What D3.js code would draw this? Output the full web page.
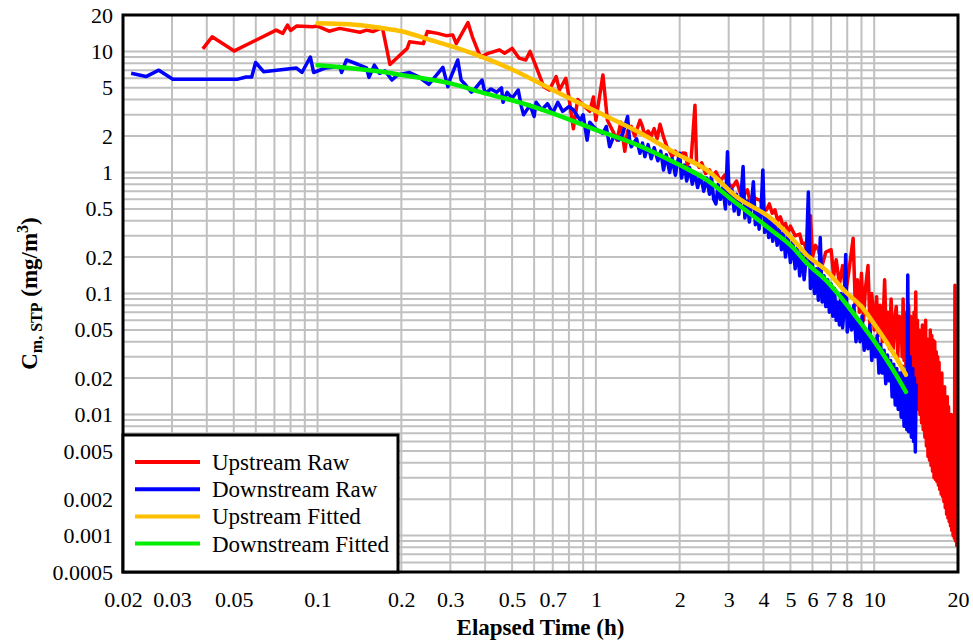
<!DOCTYPE html>
<html>
<head>
<meta charset="utf-8">
<script src="https://cdn.jsdelivr.net/npm/d3@7"></script>
<style>
  body { margin: 0; background: #fff; }
  text { font-family: "Liberation Serif", "Times New Roman", serif; fill: #000; }
</style>
</head>
<body>
<svg id="chart" width="973" height="641"></svg>
<script>
const xTicks = [0.02, 0.03, 0.05, 0.1, 0.2, 0.3, 0.5, 0.7, 1, 2, 3, 4, 5, 6, 7, 8, 10, 20];
const yTicks = [0.0005, 0.001, 0.002, 0.005, 0.01, 0.02, 0.05, 0.1, 0.2, 0.5, 1, 2, 5, 10, 20];
const seriesNames = ['Upstream Raw', 'Downstream Raw', 'Upstream Fitted', 'Downstream Fitted'];

// upstream raw (h, mg/m3)
const upTime = [0.0387, 0.0418, 0.0502, 0.071, 0.075, 0.078, 0.080, 0.084, 0.096, 0.10, 0.11, 0.12, 0.142, 0.15, 0.158, 0.171,
  0.182, 0.21, 0.214, 0.24, 0.248, 0.27, 0.29, 0.306, 0.315, 0.347, 0.36, 0.38, 0.385, 0.41, 0.45, 0.47, 0.50, 0.53, 0.56,
  0.58, 0.61, 0.65, 0.68, 0.72, 0.74, 0.78, 0.80, 0.83, 0.86, 0.90, 0.95, 0.98, 1.0, 1.06, 1.1, 1.15, 1.19, 1.23, 1.27, 1.30,
  1.34, 1.38, 1.44, 1.47, 1.50, 1.54, 1.58, 1.62, 1.66, 1.7, 1.75, 1.8, 1.84, 1.88, 1.93, 2.0, 2.05, 2.1, 2.13, 2.2, 2.27,
  2.3, 2.35, 2.4, 2.48, 2.56, 2.62, 2.7, 2.8, 2.9, 3.0, 3.1, 3.2, 3.3, 3.4, 3.5, 3.6, 3.7, 3.8, 3.9, 4.0, 4.1, 4.2, 4.3, 4.4,
  4.5, 4.6, 4.7, 4.8, 4.9, 5.0, 5.2, 5.4, 5.5, 5.6, 5.75, 5.9, 6.0, 6.15, 6.3, 6.5, 6.7, 7.0, 7.15, 7.3, 7.5, 7.7, 7.9, 8.1,
  8.4, 8.55, 8.7, 8.85, 9.0, 9.15, 9.3, 9.5, 9.65, 9.8, 10.0, 10.2, 10.35, 10.5, 10.7, 10.9, 11.05, 11.2, 11.35, 11.5, 11.7,
  11.85, 12.0, 12.15, 12.3,
  12.5, 12.6, 12.7, 12.8, 12.9, 13.0, 13.1, 13.2, 13.3, 13.4, 13.5, 13.6, 13.7, 13.8, 13.9, 14.0, 14.1, 14.2, 14.3, 14.4,
  14.5, 14.6, 14.7, 14.8, 14.9, 15.0, 15.1, 15.2, 15.3, 15.4, 15.5, 15.6, 15.7, 15.8, 15.9, 16.0, 16.1, 16.2, 16.3, 16.4,
  16.5, 16.6, 16.7, 16.8, 16.9, 17.0, 17.1, 17.2, 17.3, 17.4, 17.5, 17.6, 17.7, 17.8, 17.9, 18.0, 18.1, 18.2, 18.3, 18.4,
  18.5, 18.6, 18.7, 18.8, 18.9, 19.0, 19.1, 19.2, 19.3, 19.4, 19.5, 19.6, 19.7, 19.8];
const upConc = [10.5, 13.2, 10.1, 15.0, 14.1, 16.5, 14.9, 16.2, 16.0, 16.2, 14.7, 15.5, 14.4, 15.0, 14.6, 15.7,
  7.8, 10.6, 12.0, 11.6, 14.6, 14.1, 13.5, 13.7, 11.6, 17.3, 13.2, 9.65, 9.0, 9.65, 10.3, 9.65, 10.6, 8.8, 8.5,
  10.0, 7.5, 5.1, 4.8, 6.2, 4.8, 6.0, 4.2, 2.3, 4.0, 3.6, 3.2, 4.2, 2.7, 6.4, 2.7, 2.2, 1.85, 2.6, 1.5, 2.2,
  2.4, 2.0, 2.7, 2.4, 2.0, 2.2, 2.0, 2.3, 1.9, 2.5, 1.96, 1.63, 1.5, 1.35, 1.5, 1.31, 1.45, 1.44, 1.15, 1.3, 3.6,
  1.2, 1.1, 1.2, 0.98, 1.05, 0.92, 1.01, 0.85, 0.95, 0.8, 0.76, 0.85, 0.68, 0.65, 0.72, 0.556, 0.62, 0.6, 0.59, 0.5, 0.49, 0.55, 0.46, 0.49,
  0.4, 0.43, 0.36, 0.38, 0.32, 0.36, 0.3, 0.31, 0.26, 0.26, 0.22, 0.44, 0.2, 0.25, 0.23, 0.17, 0.22, 0.23, 0.14, 0.19, 0.12, 0.17, 0.1, 0.15,
  0.286, 0.08, 0.13, 0.07, 0.147, 0.06, 0.11, 0.17, 0.055, 0.1, 0.05, 0.094, 0.045, 0.08, 0.04, 0.13, 0.04, 0.07, 0.035, 0.09, 0.035,
  0.06, 0.078, 0.03, 0.065,
  0.06, 0.03, 0.09, 0.028, 0.07, 0.025, 0.06, 0.022, 0.08, 0.02, 0.065, 0.018, 0.055, 0.016, 0.07, 0.014, 0.103, 0.012, 0.06, 0.011,
  0.05, 0.01, 0.041, 0.0085, 0.055, 0.0075, 0.045, 0.0065, 0.06, 0.0055, 0.042, 0.0045, 0.035, 0.0042, 0.05, 0.0038, 0.045, 0.0034, 0.041, 0.003,
  0.04, 0.0029, 0.033, 0.0028, 0.03, 0.0026, 0.027, 0.0024, 0.02, 0.0022, 0.022, 0.0021, 0.016, 0.0019, 0.017, 0.0017, 0.013, 0.0015, 0.014, 0.0014,
  0.0116, 0.0013, 0.009, 0.0012, 0.01, 0.0011, 0.007, 0.001, 0.0075, 0.00095, 0.117, 0.0009, 0.006, 0.00081];

// downstream raw
const downTime = [0.0214, 0.0242, 0.0269, 0.0302, 0.0517, 0.0554, 0.058, 0.0599, 0.064, 0.0838, 0.0879, 0.0942, 0.0968, 0.107,
  0.12, 0.122, 0.127, 0.14, 0.15, 0.153, 0.16, 0.167, 0.175, 0.185, 0.194, 0.214, 0.23, 0.251, 0.282, 0.294, 0.30, 0.319,
  0.328, 0.34, 0.357, 0.37, 0.39, 0.40, 0.42, 0.44, 0.458, 0.464, 0.48, 0.50, 0.526, 0.54, 0.55, 0.58, 0.60, 0.61, 0.64, 0.67,
  0.70, 0.73, 0.76, 0.80, 0.83, 0.86, 0.88, 0.90, 0.93, 0.95, 0.98, 1.02, 1.06, 1.09, 1.12, 1.16, 1.21, 1.25, 1.30, 1.32, 1.34,
  1.40, 1.44, 1.47, 1.50, 1.54, 1.58, 1.62, 1.67, 1.71, 1.75, 1.79, 1.84, 1.88, 1.93, 1.97, 2.0, 2.03, 2.08, 2.12, 2.17, 2.22,
  2.27, 2.32, 2.38, 2.44, 2.50, 2.56, 2.6, 2.65, 2.7, 2.75, 2.8, 2.86, 2.92, 2.97, 3.02, 3.08, 3.14, 3.2, 3.26, 3.32, 3.38,
  3.43, 3.5, 3.56, 3.62, 3.68, 3.74, 3.8, 3.86, 3.92, 3.98, 4.04, 4.1, 4.18, 4.25, 4.32, 4.4, 4.48, 4.56, 4.64, 4.72, 4.8,
  4.9, 5.0, 5.1, 5.2, 5.3, 5.4, 5.5, 5.6, 5.7, 5.8, 5.9, 6.0, 6.1, 6.2, 6.3, 6.4, 6.5, 6.6, 6.7, 6.8, 6.9, 7.0, 7.1, 7.2,
  7.3, 7.4, 7.5, 7.6, 7.7, 7.8, 7.9, 8.0, 8.15, 8.3, 8.45, 8.6, 8.75, 8.9, 9.05, 9.2, 9.35, 9.5, 9.65, 9.8, 9.95, 10.1,
  10.25, 10.4, 10.55, 10.7, 10.85, 11.0, 11.15, 11.3, 11.45, 11.6, 11.75, 11.9, 12.05, 12.2, 12.35, 12.5, 12.65, 12.8,
  12.95, 13.1, 13.2, 13.3, 13.45, 13.6, 13.75, 13.85, 13.95, 14.05, 14.15];
const downConc = [6.6, 6.2, 7.0, 5.9, 5.9, 6.15, 6.15, 8.1, 6.8, 7.3, 6.7, 9.0, 6.7, 7.3,
  7.5, 6.7, 8.5, 7.8, 7.3, 6.1, 7.7, 6.6, 6.9, 5.8, 6.4, 6.7, 6.2, 5.35, 7.4, 5.1, 6.0, 8.5,
  5.8, 5.3, 4.6, 5.0, 5.8, 4.5, 4.9, 4.6, 5.0, 3.8, 4.6, 4.1, 4.8, 3.5, 3.0, 3.6, 2.9, 3.8, 3.3, 3.7,
  3.1, 3.8, 3.2, 3.5, 3.3, 2.9, 2.7, 3.0, 1.85, 2.6, 2.4, 2.2, 2.1, 2.4, 1.63, 2.0, 1.85, 2.1, 2.9, 1.9, 1.63,
  1.9, 1.44, 1.75, 1.35, 1.7, 1.3, 1.6, 1.25, 1.5, 1.05, 1.4, 1.0, 1.3, 0.95, 1.25, 1.44, 0.9, 1.15, 0.85, 1.1, 0.8,
  1.0, 0.75, 0.95, 0.7, 0.9, 0.66, 0.93, 0.6, 0.55, 0.8, 0.6, 0.75, 0.5, 1.48, 0.55, 0.72, 0.48, 0.66, 0.45, 0.62, 1.12,
  0.42, 0.58, 0.39, 0.54, 0.84, 0.37, 0.5, 0.34, 0.47, 1.05, 0.32, 0.45, 0.29, 0.42, 0.27, 0.38, 0.25, 0.36, 0.23, 0.32, 0.2,
  0.3, 0.18, 0.27, 0.16, 0.24, 0.14, 0.22, 0.13, 0.2, 0.69, 0.11, 0.18, 0.1, 0.16, 0.088, 0.29, 0.085, 0.14, 0.078, 0.13, 0.07, 0.12, 0.065, 0.11,
  0.06, 0.085, 0.055, 0.1, 0.052, 0.075, 0.21, 0.048, 0.07, 0.05, 0.08, 0.04, 0.058, 0.04, 0.065, 0.034, 0.048, 0.035, 0.055, 0.028, 0.04, 0.03,
  0.045, 0.022, 0.038, 0.022, 0.034, 0.018, 0.031, 0.019, 0.028, 0.014, 0.026, 0.012, 0.024, 0.011, 0.022, 0.0095, 0.025, 0.008,
  0.022, 0.0075, 0.142, 0.0072, 0.03, 0.0065, 0.024, 0.006, 0.02, 0.0049, 0.018];

// fitted curves
const fitTime = [0.1, 0.13, 0.17, 0.2, 0.25, 0.3, 0.4, 0.5, 0.7, 1, 1.4, 2, 2.5, 3.2, 4.3, 5.1, 5.7, 6.7, 8, 9, 10, 11, 12, 13];
const upFit = [17.1, 16.8, 15.6, 14.7, 12.6, 11.1, 8.8, 7.1, 4.8, 3.2, 2.2, 1.38, 1.05, 0.63, 0.41, 0.28, 0.21, 0.156, 0.1, 0.078, 0.056, 0.0405, 0.0294, 0.0213];
const downFit = [7.7, 7.3, 6.8, 6.4, 5.9, 5.45, 4.5, 3.95, 3.08, 2.25, 1.7, 1.15, 0.87, 0.556, 0.33, 0.24, 0.18, 0.129, 0.08, 0.056, 0.0404, 0.0292, 0.0212, 0.0154];

const colors = ['#ff0000', '#0000ff', '#ffc000', '#00ee00'];

const padLeft = 123, padRight = 958, padTop = 15, padBottom = 572;
const svg = d3.select('#chart');
const xScale = d3.scaleLog().domain([0.02, 20]).range([padLeft, padRight]);
const yScale = d3.scaleLog().domain([0.0005, 20]).range([padBottom, padTop]);

// grid at every 1..9 x decade
const gridVals = (lo, hi) => {
  const out = [];
  for (let e = -5; e <= 2; e++) {
    for (let k = 1; k <= 9; k++) {
      const v = +(k * Math.pow(10, e)).toPrecision(3);
      if (v > lo * 1.0001 && v < hi * 0.9999) out.push(v);
    }
  }
  return out;
};
const grid = svg.append('g').attr('stroke', '#c0c0c0').attr('stroke-width', 2);
grid.selectAll('.gx').data(gridVals(0.02, 20)).enter().append('line')
  .attr('x1', d => xScale(d)).attr('x2', d => xScale(d)).attr('y1', padTop).attr('y2', padBottom);
grid.selectAll('.gy').data(gridVals(0.0005, 20)).enter().append('line')
  .attr('y1', d => yScale(d)).attr('y2', d => yScale(d)).attr('x1', padLeft).attr('x2', padRight);

const plot = svg.append('g');
const line = d3.line().x(d => xScale(d[0])).y(d => yScale(d[1]));
const smooth = d3.line().x(d => xScale(d[0])).y(d => yScale(d[1])).curve(d3.curveMonotoneX);

const upData = upTime.map((t, i) => [t, upConc[i]]);
const downData = downTime.map((t, i) => [t, downConc[i]]);
const upFitData = fitTime.map((t, i) => [t, upFit[i]]);
const downFitData = fitTime.map((t, i) => [t, downFit[i]]);

plot.append('path').datum(upData).attr('d', line).attr('fill', 'none')
  .attr('stroke', colors[0]).attr('stroke-width', 3.5).attr('stroke-linejoin', 'round');
plot.append('path').datum(downData).attr('d', line).attr('fill', 'none')
  .attr('stroke', colors[1]).attr('stroke-width', 3.5).attr('stroke-linejoin', 'round');
plot.append('path').datum(upFitData).attr('d', smooth).attr('fill', 'none')
  .attr('stroke', colors[2]).attr('stroke-width', 4.5).attr('stroke-linecap', 'round');
plot.append('path').datum(downFitData).attr('d', smooth).attr('fill', 'none')
  .attr('stroke', colors[3]).attr('stroke-width', 4.5).attr('stroke-linecap', 'round');

// axes (labels only)
const xAxis = d3.axisBottom(xScale).tickValues(xTicks).tickFormat(d3.format('~g')).tickSize(0).tickPadding(19);
const yAxis = d3.axisLeft(yScale).tickValues(yTicks).tickFormat(d3.format('~g')).tickSize(0).tickPadding(10);
const gx = svg.append('g').attr('transform', `translate(0,${padBottom})`).call(xAxis);
const gy = svg.append('g').attr('transform', `translate(${padLeft},0)`).call(yAxis);
[gx, gy].forEach(g => {
  g.select('.domain').remove();
  g.selectAll('text').attr('font-size', 22).attr('font-family', '"Liberation Serif", serif').attr('fill', '#000');
});

// frame
svg.append('rect').attr('x', padLeft).attr('y', padTop).attr('width', padRight - padLeft).attr('height', padBottom - padTop)
  .attr('fill', 'none').attr('stroke', '#000').attr('stroke-width', 3);

// legend
const lg = svg.append('g');
lg.append('rect').attr('x', padLeft).attr('y', 435).attr('width', 275).attr('height', padBottom - 435)
  .attr('fill', '#fff').attr('stroke', '#000').attr('stroke-width', 3);
seriesNames.forEach((name, i) => {
  const y = 462 + i * 27.2;
  lg.append('line').attr('x1', 135).attr('x2', 200).attr('y1', y).attr('y2', y)
    .attr('stroke', colors[i]).attr('stroke-width', 4);
  lg.append('text').attr('x', 212).attr('y', y + 8).attr('font-size', 23).text(name);
});

// axis titles
svg.append('text').attr('x', (padLeft + padRight) / 2).attr('y', 635).attr('text-anchor', 'middle')
  .attr('font-size', 23).attr('font-weight', 'bold').text('Elapsed Time (h)');
const yt = svg.append('text').attr('transform', `translate(37,${(padTop + padBottom) / 2}) rotate(-90)`)
  .attr('text-anchor', 'middle').attr('font-size', 23).attr('font-weight', 'bold');
yt.append('tspan').text('C');
yt.append('tspan').attr('font-size', 16).attr('dy', 5).text('m, STP');
yt.append('tspan').attr('dy', -5).text(' (mg/m');
yt.append('tspan').attr('font-size', 16).attr('dy', -9).text('3');
yt.append('tspan').attr('dy', 9).text(')');
</script>
</body>
</html>
